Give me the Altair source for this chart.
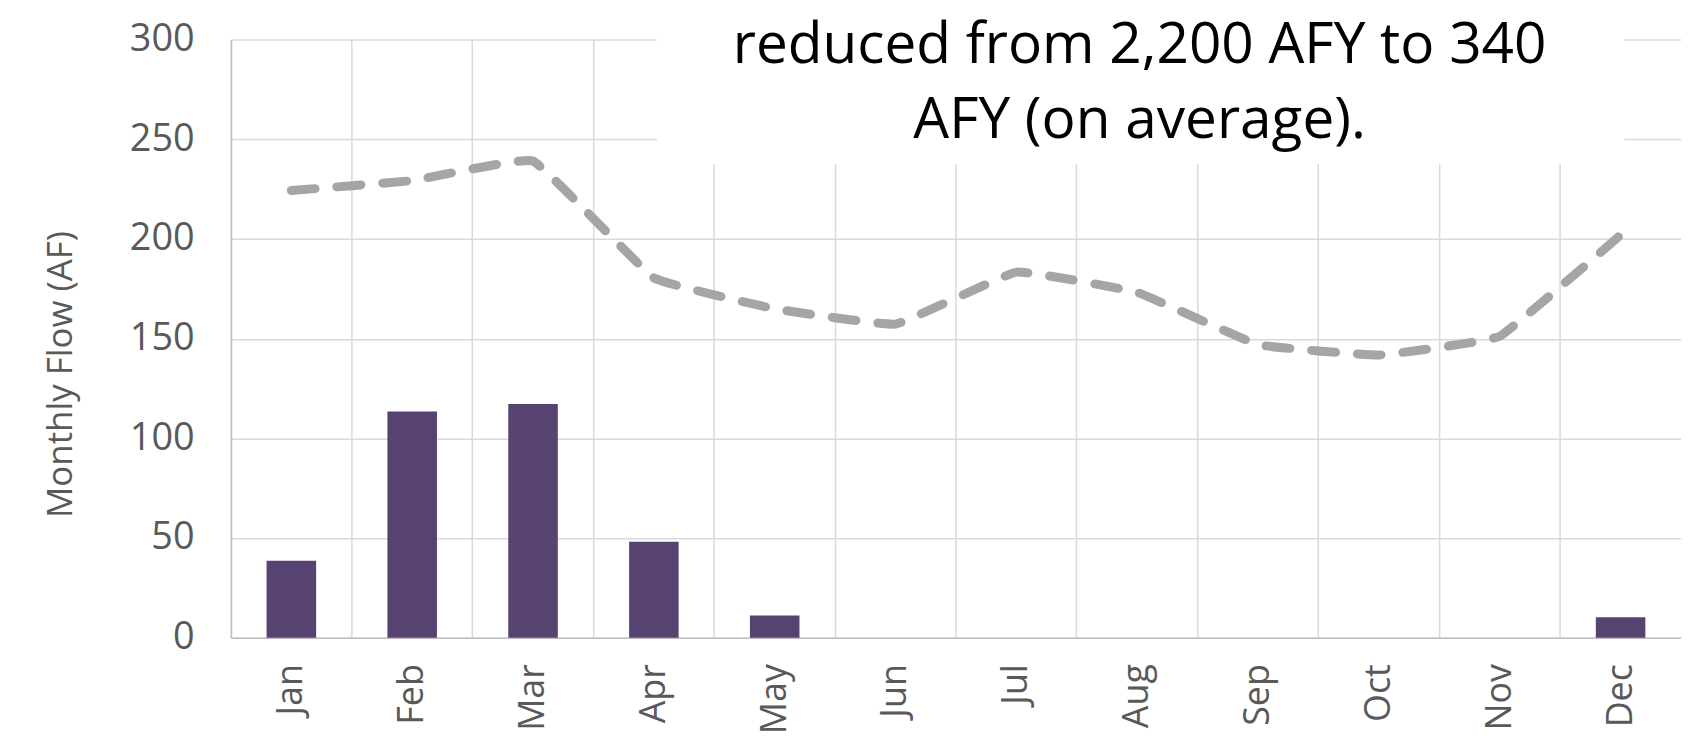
import altair as alt
import pandas as pd

months = ["Jan", "Feb", "Mar", "Apr", "May", "Jun", "Jul", "Aug", "Sep", "Oct", "Nov", "Dec"]
current_flow = [38.6, 113.5, 117.2, 48.1, 11.1, 0, 0, 0, 0, 0, 0, 10.3]
historic_flow = [224.3, 229.3, 239.1, 180.5, 165.0, 157.3, 183.4, 173.2, 147.0, 141.8, 151.2, 202.0]
note_lines = ["reduced from 2,200 AFY to 340", "AFY (on average)."]
y_ticks = [0, 50, 100, 150, 200, 250, 300]

FONT = "Open Sans"
df = pd.DataFrame({"month": months, "current": current_flow, "historic": historic_flow})

x_enc = alt.X(
    "month:N",
    sort=months,
    scale=alt.Scale(paddingInner=0, paddingOuter=0),
    axis=alt.Axis(
        title=None,
        labelAngle=-90,
        labelAlign="right",
        labelBaseline="middle",
        labelPadding=26,
        labelFont=FONT,
        labelFontSize=36,
        labelColor="#595959",
        ticks=False,
        domainColor="#BFBFBF",
        domainWidth=1.5,
        grid=True,
        gridColor="#D9D9D9",
        gridWidth=1.5,
        bandPosition=0,
    ),
)

y_axis = alt.Axis(
    title="Monthly Flow (AF)",
    titleFont=FONT,
    titleFontSize=35,
    titleFontWeight="normal",
    titleColor="#595959",
    titleAngle=-90,
    titleAlign="center",
    titleBaseline="middle",
    titleX=-171,
    titleY=336,
    values=y_ticks,
    labelFont=FONT,
    labelFontSize=38,
    labelColor="#595959",
    labelPadding=37,
    ticks=False,
    domainColor="#BFBFBF",
    domainWidth=1.5,
    gridColor="#D9D9D9",
    gridWidth=1.5,
)

bars = alt.Chart(df).mark_bar(color="#564372", width=alt.RelativeBandSize(0.41)).encode(
    x=x_enc,
    y=alt.Y("current:Q", scale=alt.Scale(domain=[0, 300], nice=False), axis=y_axis),
)

line = alt.Chart(df).mark_line(
    color="#A5A5A5", strokeWidth=9, strokeDash=[24, 22], strokeCap="round",
    interpolate="cardinal", tension=0.75,
).encode(
    x=alt.X("month:N", sort=months),
    y=alt.Y("historic:Q"),
)

box = alt.Chart(pd.DataFrame({"k": [0]})).mark_rect(color="white").encode(
    x=alt.value(428), x2=alt.value(1400), y=alt.value(-40), y2=alt.value(125)
)

note_df = pd.DataFrame({"text": note_lines, "ypix": [24, 99]})
note = alt.Chart(note_df).mark_text(
    font=FONT, fontSize=57, color="#000000", align="center", baseline="alphabetic"
).encode(
    x=alt.value(913),
    y=alt.Y("ypix:Q", scale=None),
    text="text:N",
)

chart = alt.layer(bars, line, box, note).properties(
    width=1457,
    height=601,
    autosize=alt.AutoSizeParams(type="none"),
    padding={"left": 224, "top": 30, "right": 0, "bottom": 100},
    background="white",
).configure_view(stroke=None)

chart.save("out.html", embed_options={"renderer": "svg", "actions": False})
